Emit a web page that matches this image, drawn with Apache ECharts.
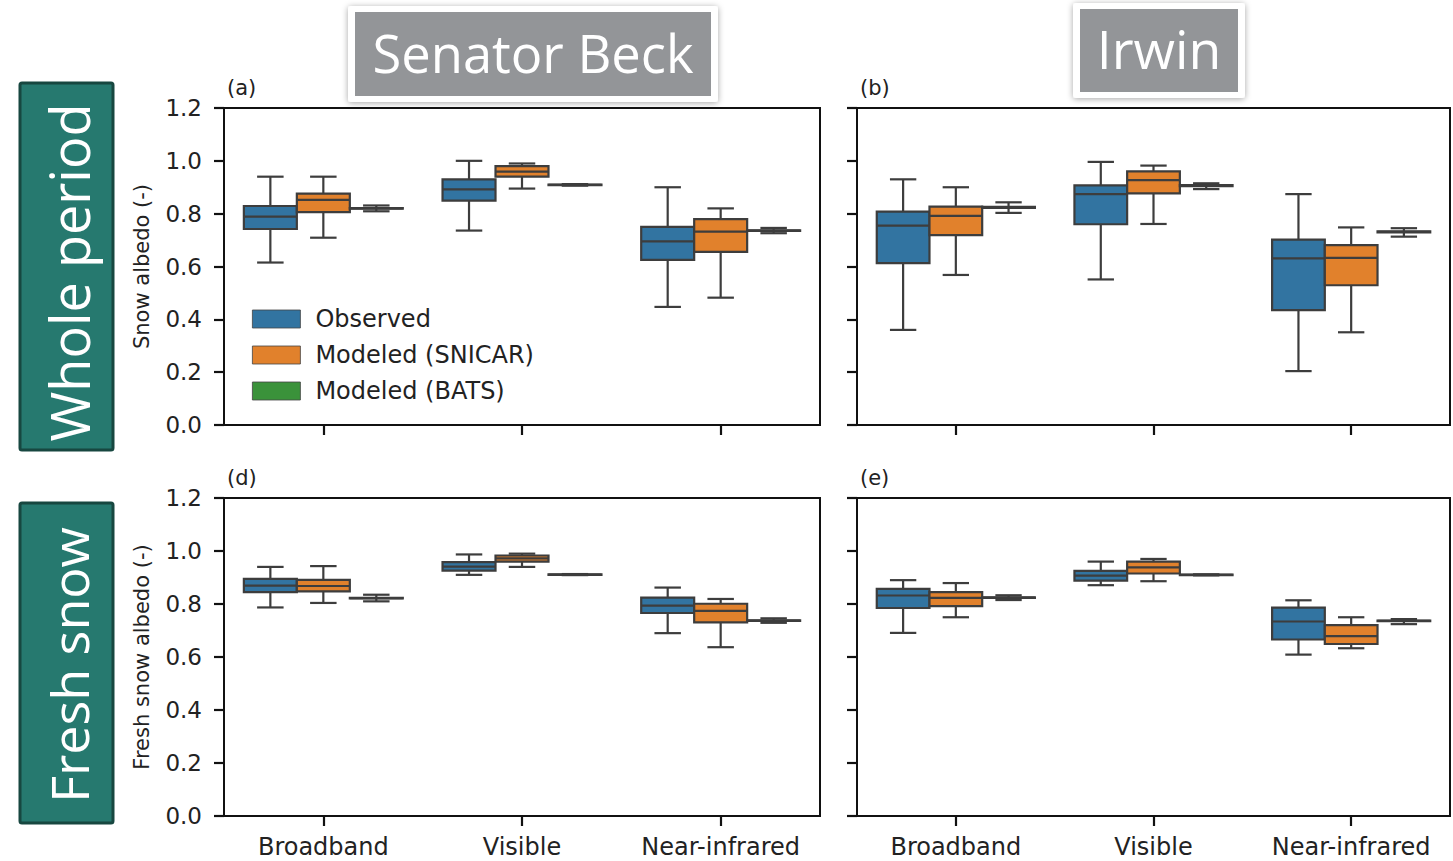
<!DOCTYPE html>
<html>
<head>
<meta charset="utf-8">
<title>Snow albedo box plots</title>
<script src="https://cdn.jsdelivr.net/npm/echarts@6/dist/echarts.min.js"></script>
<style>
  html, body { margin: 0; padding: 0; background: #fff; }
  #chart { width: 1453px; height: 861px; }
</style>
</head>
<body>
<div id="chart"></div>
<script>
// Spectral bands on the x axis and the three albedo sources (hue groups)
const categories = ['Broadband', 'Visible', 'Near-infrared'];
const hues = ['Observed', 'Modeled (SNICAR)', 'Modeled (BATS)'];
const yTicks = [0, 0.2, 0.4, 0.6, 0.8, 1.0, 1.2];

// Box statistics per band: [min whisker, Q1, median, Q3, max whisker]
// (a) Senator Beck, whole period
const obsA    = [[0.615, 0.742, 0.789, 0.829, 0.940], [0.736, 0.849, 0.892, 0.930, 1.000], [0.447, 0.625, 0.695, 0.750, 0.900]];
const snicarA = [[0.709, 0.806, 0.852, 0.876, 0.940], [0.895, 0.940, 0.959, 0.980, 0.990], [0.482, 0.655, 0.732, 0.779, 0.820]];
const batsA   = [[0.809, 0.819, 0.820, 0.821, 0.831], [0.906, 0.908, 0.909, 0.910, 0.912], [0.726, 0.735, 0.736, 0.737, 0.746]];
// (b) Irwin, whole period
const obsB    = [[0.360, 0.613, 0.755, 0.808, 0.930], [0.551, 0.760, 0.874, 0.907, 0.996], [0.204, 0.435, 0.631, 0.702, 0.874]];
const snicarB = [[0.568, 0.719, 0.792, 0.827, 0.900], [0.761, 0.877, 0.927, 0.960, 0.982], [0.351, 0.529, 0.633, 0.681, 0.748]];
const batsB   = [[0.803, 0.822, 0.824, 0.826, 0.843], [0.893, 0.904, 0.906, 0.908, 0.915], [0.713, 0.729, 0.731, 0.733, 0.745]];
// (d) Senator Beck, fresh snow
const obsD    = [[0.787, 0.845, 0.869, 0.895, 0.940], [0.910, 0.926, 0.941, 0.958, 0.987], [0.690, 0.766, 0.794, 0.824, 0.862]];
const snicarD = [[0.804, 0.848, 0.868, 0.891, 0.943], [0.940, 0.960, 0.972, 0.983, 0.990], [0.637, 0.731, 0.774, 0.801, 0.819]];
const batsD   = [[0.810, 0.821, 0.822, 0.823, 0.835], [0.909, 0.910, 0.911, 0.912, 0.913], [0.729, 0.736, 0.737, 0.738, 0.746]];
// (e) Irwin, fresh snow
const obsE    = [[0.691, 0.785, 0.832, 0.857, 0.890], [0.871, 0.888, 0.907, 0.925, 0.960], [0.609, 0.666, 0.734, 0.786, 0.814]];
const snicarE = [[0.750, 0.792, 0.823, 0.845, 0.879], [0.886, 0.915, 0.938, 0.960, 0.970], [0.633, 0.649, 0.679, 0.720, 0.750]];
const batsE   = [[0.815, 0.823, 0.824, 0.825, 0.833], [0.908, 0.909, 0.910, 0.911, 0.912], [0.724, 0.735, 0.736, 0.737, 0.743]];

const panelLetters = ['(a)', '(b)', '(d)', '(e)'];
const siteTitles = ['Senator Beck', 'Irwin'];
const rowTitles = ['Whole period', 'Fresh snow'];
const yNames = ['Snow albedo (-)', 'Fresh snow albedo (-)'];

const panels = [
  [obsA, snicarA, batsA],
  [obsB, snicarB, batsB],
  [obsD, snicarD, batsD],
  [obsE, snicarE, batsE]
];

const FILLS = ['#3274a1', '#e1812c', '#3a923a'];
const EDGE = '#3d3d3d';
const LW = 2.2;
const FONT = 'DejaVu Sans';

// Panel rectangles (left, top, width, height) in a 2x2 arrangement
const grids = [
  { left: 224, top: 108, width: 596, height: 317 },
  { left: 857, top: 108, width: 593, height: 317 },
  { left: 224, top: 498, width: 596, height: 318 },
  { left: 857, top: 498, width: 593, height: 318 }
];

// Draws one seaborn-style box: hues sit side by side inside 80% of the band
function boxRenderer(hueIdx, fill) {
  return function (params, api) {
    const cat = api.value(0);
    const band = api.size([1, 0])[0];
    const w = band * 0.8 / hues.length;
    const cx = api.coord([cat, 0])[0] + (hueIdx - (hues.length - 1) / 2) * w;
    const y = i => api.coord([cat, api.value(i)])[1];
    const yMin = y(1), yQ1 = y(2), yMed = y(3), yQ3 = y(4), yMax = y(5);
    const half = w / 2, cap = w / 4;
    const ls = { stroke: EDGE, lineWidth: LW, lineCap: 'butt' };
    return {
      type: 'group',
      children: [
        { type: 'line', shape: { x1: cx, y1: yQ1, x2: cx, y2: yMin }, style: ls },
        { type: 'line', shape: { x1: cx, y1: yQ3, x2: cx, y2: yMax }, style: ls },
        { type: 'line', shape: { x1: cx - cap, y1: yMin, x2: cx + cap, y2: yMin }, style: ls },
        { type: 'line', shape: { x1: cx - cap, y1: yMax, x2: cx + cap, y2: yMax }, style: ls },
        { type: 'rect', shape: { x: cx - half, y: yQ3, width: w, height: Math.max(yQ1 - yQ3, 0.5) },
          style: { fill: fill, stroke: EDGE, lineWidth: LW } },
        { type: 'line', shape: { x1: cx - half, y1: yMed, x2: cx + half, y2: yMed }, style: ls }
      ]
    };
  };
}

const xAxes = grids.map((g, i) => ({
  type: 'category',
  gridIndex: i,
  data: categories,
  boundaryGap: true,
  axisLine: { show: true, lineStyle: { color: '#111', width: 2 } },
  axisTick: { show: true, interval: 0, alignWithLabel: true, length: 10, lineStyle: { color: '#111', width: 2.2 } },
  axisLabel: { show: i >= 2, interval: 0, fontFamily: FONT, fontSize: 24, color: '#222', margin: 19 },
  splitLine: { show: false }
}));

const yAxes = grids.map((g, i) => ({
  type: 'value',
  gridIndex: i,
  min: 0,
  max: 1.2,
  interval: 0.2,
  name: i % 2 === 0 ? yNames[Math.floor(i / 2)] : '',
  nameLocation: 'middle',
  nameGap: 72,
  nameTextStyle: { fontFamily: FONT, fontSize: 21, color: '#222' },
  axisLine: { show: true, lineStyle: { color: '#111', width: 2 } },
  axisTick: { show: true, length: 10, lineStyle: { color: '#111', width: 2.2 } },
  axisLabel: {
    show: i % 2 === 0, fontFamily: FONT, fontSize: 23, color: '#222', margin: 22,
    formatter: v => v.toFixed(1)
  },
  splitLine: { show: false }
}));

const series = [];
panels.forEach((groups, p) => {
  groups.forEach((stats, h) => {
    series.push({
      type: 'custom',
      name: hues[h],
      xAxisIndex: p,
      yAxisIndex: p,
      itemStyle: { color: FILLS[h] },
      encode: { x: 0, y: [1, 2, 3, 4, 5] },
      renderItem: boxRenderer(h, FILLS[h]),
      data: stats.map((s, c) => [c].concat(s)),
      silent: true
    });
  });
});

// Header cards for the two sites and coloured row labels
const graphics = [];
const headerBoxes = [
  { x: 355, y: 12, w: 356, h: 84, size: 52.5 },
  { x: 1080, y: 9, w: 158, h: 83, size: 53.5 }
];
headerBoxes.forEach((b, i) => {
  graphics.push({
    type: 'rect', z: 10,
    shape: { x: b.x - 7, y: b.y - 6, width: b.w + 14, height: b.h + 12, r: 3 },
    style: { fill: '#fff', shadowBlur: 6, shadowColor: 'rgba(0,0,0,0.35)', shadowOffsetY: 1 }
  });
  graphics.push({
    type: 'rect', z: 11,
    shape: { x: b.x, y: b.y, width: b.w, height: b.h },
    style: { fill: '#939598' }
  });
  graphics.push({
    type: 'text', z: 12,
    x: b.x + b.w / 2, y: b.y + b.h / 2 - 2,
    style: {
      text: siteTitles[i], fill: '#fff', fontFamily: 'Open Sans', fontSize: b.size,
      align: 'center', verticalAlign: 'middle'
    }
  });
});

const rowBoxes = [
  { x: 20, y: 83, w: 93, h: 367, size: 54, dy: 6 },
  { x: 20, y: 503, w: 93, h: 320, size: 52, dy: 2 }
];
rowBoxes.forEach((b, i) => {
  graphics.push({
    type: 'rect', z: 10,
    shape: { x: b.x, y: b.y, width: b.w, height: b.h, r: 2 },
    style: { fill: '#26796f', stroke: '#174740', lineWidth: 3 }
  });
  graphics.push({
    type: 'text', z: 11,
    x: b.x + b.w / 2 + 2, y: b.y + b.h / 2 + b.dy,
    rotation: Math.PI / 2,
    style: {
      text: rowTitles[i], fill: '#fff', fontFamily: 'Open Sans', fontSize: b.size,
      align: 'center', verticalAlign: 'middle'
    }
  });
});

grids.forEach((g, i) => {
  graphics.push({
    type: 'text', z: 5,
    x: g.left + 3, y: g.top - 20,
    style: {
      text: panelLetters[i], fill: '#222', fontFamily: FONT, fontSize: 21,
      align: 'left', verticalAlign: 'middle'
    }
  });
});

const chart = echarts.init(document.getElementById('chart'), null, { renderer: 'svg' });
chart.setOption({
  animation: false,
  backgroundColor: '#fff',
  grid: grids.map(g => Object.assign({
    show: true, borderColor: '#111', borderWidth: 2, backgroundColor: 'transparent', containLabel: false
  }, g)),
  xAxis: xAxes,
  yAxis: yAxes,
  legend: {
    data: hues,
    icon: 'rect',
    orient: 'vertical',
    left: 247,
    top: 302,
    itemWidth: 48,
    itemHeight: 18,
    itemGap: 12,
    itemStyle: { borderColor: '#444', borderWidth: 0.8 },
    textStyle: { fontFamily: FONT, fontSize: 24, color: '#222', padding: [0, 0, 0, 10] },
    selectedMode: false
  },
  graphic: graphics,
  series: series
});
</script>
</body>
</html>
